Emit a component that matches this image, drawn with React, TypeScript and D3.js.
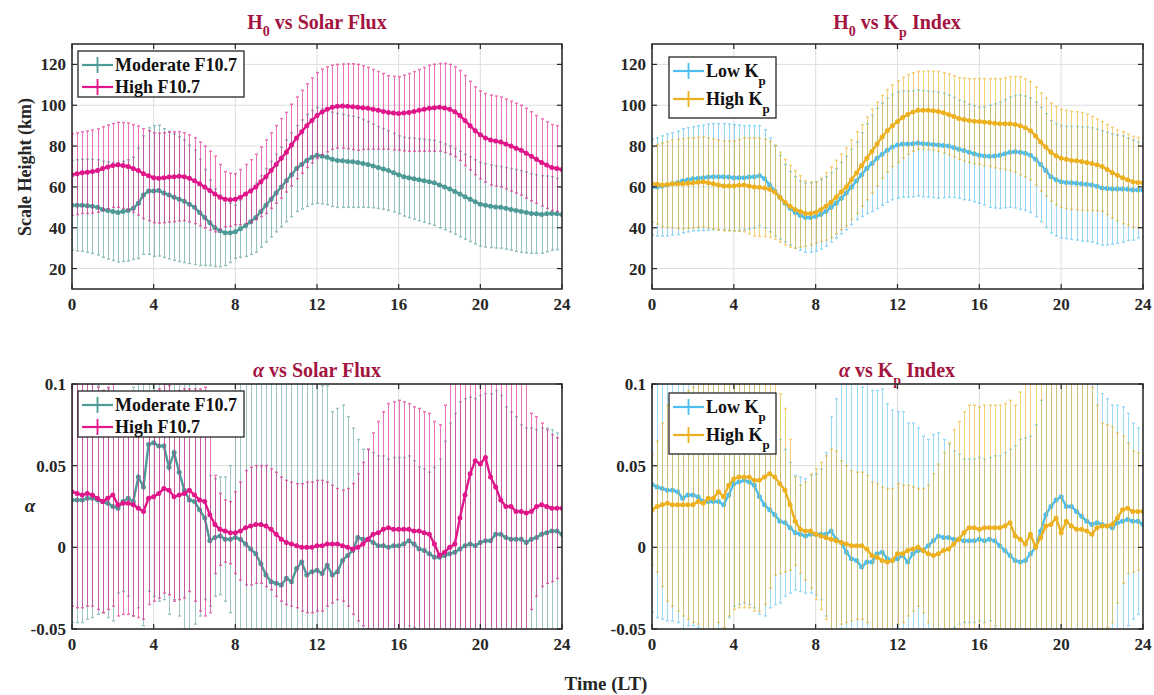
import React from "react";
import * as d3 from "d3";

// ---------- data (time step 0.25 h, 0..24 LT) ----------
const STEP = 0.25;
const TIME: number[] = d3.range(0, 24 + STEP / 2, STEP);

const X_TICKS = [0, 4, 8, 12, 16, 20, 24];
const H_TICKS = [20, 40, 60, 80, 100, 120];
const A_TICKS = [-0.05, 0, 0.05, 0.1];
const A_TICK_LABELS = ["-0.05", "0", "0.05", "0.1"];

// H0 vs Solar Flux
const modH0 = [
  51, 51, 51, 50.8, 50.5, 50, 49, 48.5, 48, 47.5, 48, 48.5, 49.5, 52, 56, 58,
  58, 58.2, 57, 56, 55, 54, 53, 51.5, 50, 47.5, 45, 42.5, 40, 38.5, 37.5, 37.5,
  38, 39.5, 41, 43, 45, 48, 51, 54, 57, 60, 63, 66, 69, 71, 73, 74.5,
  75.5, 75, 74.5, 73.5, 73, 72.8, 72.5, 72.3, 72, 71.5, 71, 70.3, 69.5, 68.8, 68, 67,
  66, 65, 64.5, 64, 63.5, 63, 62.5, 62, 61, 60, 59, 57.8, 56.5, 55.2, 54, 52.7,
  51.5, 51, 50.5, 50.2, 50, 49.5, 49, 48.5, 48, 47.5, 47, 46.8, 46.5, 46.8, 47, 46.8,
  46.5,
];
const modH0Err = [
  22, 22.3, 22.5, 22.8, 23, 23.3, 23.5, 23.8, 24, 24.3, 24.5, 24.8, 25, 27, 29, 31,
  32, 32, 31.5, 31.2, 31, 30.5, 30, 29, 28, 26, 23.5, 21, 19, 17.5, 16, 14.5,
  13, 14, 15, 16, 17, 17.5, 18, 18.5, 19, 19.5, 20, 20.5, 21, 21.8, 22.5, 23,
  23.5, 23.3, 23.2, 23.1, 23, 22.8, 22.5, 22.3, 22, 21.5, 21, 20.5, 20, 19.8, 19.5, 19.2,
  19, 19.3, 19.5, 19.8, 20, 20.3, 20.5, 20.8, 21, 21, 21, 21, 21, 20.8, 20.7, 20.6,
  20.5, 20.4, 20.2, 20.1, 20, 20, 20, 20, 20, 19.8, 19.5, 19.2, 19, 18.5, 18, 17.5,
  17,
];
const highH0 = [
  66, 66.5, 67, 67.2, 67.5, 68, 69, 69.8, 70.5, 70.8, 70.5, 70, 69, 68, 66.5, 65.5,
  64.5, 64.3, 64.5, 64.8, 65, 65.2, 65, 64.2, 63, 61.5, 60, 58.2, 56.5, 55, 54, 53.7,
  54, 55, 56.5, 58, 60, 62.5, 65, 68, 71, 74, 77, 80.5, 84, 87, 90, 92.5,
  95, 96.7, 98, 99, 99.5, 99.6, 99.5, 99.3, 99, 98.8, 98.5, 98, 97.5, 97, 96.5, 96.2,
  96, 96.2, 96.5, 97, 97.5, 98, 98.5, 98.8, 99, 98.7, 98, 96.8, 95, 92.5, 90, 87.5,
  85.5, 84, 83, 82.5, 82, 81, 80, 79, 78, 76.5, 75, 73.5, 72, 70.7, 69.5, 69,
  68.5,
];
const highH0Err = [
  20, 20, 20, 20.2, 20.3, 20.4, 20.5, 20.5, 20.5, 20.8, 21, 21.3, 21.5, 21.8, 22, 22,
  22, 22, 22, 22, 22, 21.8, 21.5, 21.3, 21, 20.5, 20, 19.3, 18.5, 16, 13.5, 13,
  12.5, 13.5, 14.5, 15.3, 16, 17, 18, 18.5, 19, 19.5, 19.5, 20, 20, 20.3, 20.5, 20.8,
  21, 21, 20.8, 20.6, 20.5, 20.6, 20.8, 21, 21, 20.5, 20, 19.5, 19, 18.5, 18, 18,
  18, 18.5, 19, 19.5, 20, 20.5, 21, 21.3, 21.5, 21.8, 22, 22, 22, 22, 21.7, 21.5,
  21.5, 21.7, 22, 22, 22, 22, 22, 22, 22, 22, 21.8, 21.5, 21.3, 21.2, 21, 21,
  21,
];

// H0 vs Kp
const lowKpH0 = [
  60, 60, 60.5, 61, 61.5, 62, 63, 63.5, 64, 64.3, 64.5, 64.8, 65, 65, 65, 64.8,
  64.5, 64.5, 64.5, 64.8, 65, 65.5, 64, 61, 58, 55, 52, 49.5, 47.5, 46, 45, 45,
  45.5, 46.5, 48, 50, 52, 54.5, 57, 60, 63, 66, 69, 71.5, 74, 76, 78, 79.5,
  80.5, 81, 81, 81.2, 81.5, 81.2, 81, 80.8, 80.5, 80.3, 80, 79.3, 78.5, 77.8, 77, 76.3,
  75.5, 75.2, 75, 75.2, 75.5, 76.3, 77, 77.2, 77, 76.5, 75.5, 73.5, 71, 68, 65, 63.5,
  62.5, 62.2, 62, 61.8, 61.5, 61.3, 61, 60.3, 59.5, 59.2, 59, 59, 59, 58.8, 58.5, 58.5,
  58.5,
];
const lowKpH0Err = [
  23.5, 24, 24.5, 25, 25, 25.3, 25.5, 25.5, 25.5, 25.7, 25.8, 26, 26, 26, 26, 26,
  26, 25.8, 25.5, 25.3, 25, 24.5, 24, 23, 22, 20.5, 19, 18, 17.5, 17, 17, 17,
  17, 17, 17, 17, 17, 17.5, 18, 18.5, 19, 20.5, 22, 23.5, 24.5, 25, 25.5, 25.8,
  26, 26, 26, 26, 26, 26, 26, 26, 26, 25.5, 25, 24.5, 24, 24, 23.5, 23.5,
  23.5, 24, 25, 25.5, 26, 26.5, 27, 27.5, 28, 28, 28, 28, 28, 27.8, 27.5, 27.5,
  27.5, 27.5, 27.7, 27.8, 28, 28, 28, 28, 28, 27.5, 27, 26.5, 26, 25, 24.5, 23.5,
  23,
];
const highKpH0 = [
  61.5, 61.3, 61, 61.2, 61.5, 61.5, 61.5, 61.8, 62, 62.3, 62.5, 62, 61.5, 61, 60.5, 60.5,
  60.5, 60.8, 61, 60.5, 60, 59.8, 59.5, 58.8, 57.5, 55, 52.5, 50.5, 49, 48, 47, 47,
  47.5, 48.8, 50.5, 52.5, 55, 57.5, 60, 63.5, 67, 70.5, 74, 77.5, 81, 84.5, 87.5, 90,
  92, 94, 95.5, 96.7, 97.5, 97.6, 97.5, 97.3, 97, 96.3, 95.5, 94.5, 93.5, 93, 92.5, 92.2,
  92, 91.8, 91.5, 91.2, 91, 91, 91, 90.6, 90, 89, 87.5, 85, 82, 79.5, 77, 75.3,
  74, 73.5, 73, 72.8, 72.5, 72, 71.5, 70.8, 70, 68.5, 67, 65.7, 64.5, 63.5, 62.5, 62.2,
  62,
];
const highKpH0Err = [
  18.5, 19.5, 20.5, 21, 21.5, 21.8, 22, 22, 22, 22, 22, 22, 22, 22, 22, 22,
  22, 22.5, 23, 23.5, 24, 24, 23.8, 23.5, 23, 22, 21, 20, 19, 17.5, 16, 15.5,
  15, 15.5, 16.5, 17.3, 18, 18.5, 19, 19.5, 20, 20, 20.3, 20.5, 20.5, 20.3, 20.2, 20,
  20, 19.8, 19.5, 19.2, 19, 19, 19.2, 19.3, 19.5, 19.6, 19.8, 19.9, 20, 20.3, 20.5, 20.8,
  21, 21.3, 21.5, 21.8, 22, 22.5, 23, 23.5, 24, 24, 24, 24, 24, 24, 24, 24,
  24, 24, 24, 24, 24, 23.5, 23, 22.5, 22, 22, 22.2, 22.3, 22.5, 22.3, 22.2, 22,
  22,
];

// alpha vs Solar Flux
const modAlpha = [
  0.029, 0.029, 0.029, 0.03, 0.03, 0.029, 0.028, 0.027, 0.025, 0.024, 0.028, 0.03, 0.028, 0.043, 0.037, 0.063,
  0.064, 0.062, 0.062, 0.049, 0.058, 0.046, 0.035, 0.029, 0.028, 0.023, 0.018, 0.004, 0.006, 0.007, 0.005, 0.005,
  0.006, 0.005, 0.002, -0.001, -0.004, -0.01, -0.017, -0.021, -0.022, -0.023, -0.019, -0.021, -0.013, -0.009, -0.017, -0.015,
  -0.014, -0.016, -0.011, -0.017, -0.015, -0.008, -0.005, -0.002, 0.006, 0.005, 0.005, 0.003, 0.001, 0.001, 0.0, 0.001,
  0.001, 0.002, 0.004, 0.002, -0.001, -0.002, -0.004, -0.006, -0.006, -0.005, -0.004, -0.003, -0.001, 0.001, 0.002, 0.001,
  0.003, 0.004, 0.004, 0.008, 0.008, 0.006, 0.005, 0.005, 0.005, 0.003, 0.005, 0.006, 0.008, 0.009, 0.01, 0.01,
  0.008,
];
const modAlphaErr = [
  0.075, 0.075, 0.075, 0.074, 0.073, 0.07, 0.068, 0.07, 0.07, 0.052, 0.055, 0.06, 0.07, 0.08, 0.085, 0.09,
  0.094, 0.095, 0.094, 0.09, 0.09, 0.088, 0.085, 0.08, 0.075, 0.065, 0.05, 0.04, 0.036, 0.036, 0.038, 0.045,
  0.12, 0.12, 0.125, 0.125, 0.13, 0.13, 0.13, 0.13, 0.13, 0.13, 0.13, 0.13, 0.13, 0.125, 0.12, 0.12,
  0.12, 0.115, 0.11, 0.1, 0.1, 0.095, 0.085, 0.075, 0.06, 0.055, 0.055, 0.055, 0.055, 0.055, 0.054, 0.054,
  0.054, 0.053, 0.052, 0.051, 0.05, 0.05, 0.05, 0.055, 0.06, 0.07, 0.08, 0.085, 0.09, 0.09, 0.09, 0.09,
  0.09, 0.09, 0.09, 0.088, 0.085, 0.08, 0.078, 0.075, 0.07, 0.07, 0.068, 0.066, 0.065, 0.064, 0.062, 0.06,
  0.06,
];
const highAlpha = [
  0.034, 0.033, 0.032, 0.033, 0.032, 0.03, 0.028, 0.03, 0.032, 0.026, 0.027, 0.027, 0.026, 0.024, 0.022, 0.03,
  0.031, 0.033, 0.036, 0.035, 0.031, 0.032, 0.033, 0.035, 0.032, 0.029, 0.028, 0.02, 0.014, 0.011, 0.01, 0.009,
  0.009, 0.01, 0.012, 0.013, 0.014, 0.014, 0.013, 0.011, 0.008, 0.005, 0.003, 0.002, 0.001, 0.0, 0.0, 0.0,
  0.001, 0.001, 0.002, 0.002, 0.002, 0.001, 0.0, -0.001, 0.0, 0.002, 0.005, 0.008, 0.009, 0.011, 0.012, 0.011,
  0.011, 0.011, 0.011, 0.01, 0.01, 0.009, 0.008, 0.002, -0.005, -0.003, 0.0, 0.002, 0.018, 0.032, 0.045, 0.053,
  0.051, 0.055, 0.043, 0.037, 0.029, 0.025, 0.025, 0.022, 0.022, 0.021, 0.022, 0.025, 0.026, 0.025, 0.024, 0.024,
  0.024,
];
const highAlphaErr = [
  0.07, 0.07, 0.069, 0.069, 0.068, 0.068, 0.068, 0.068, 0.068, 0.068, 0.068, 0.068, 0.068, 0.067, 0.066, 0.065,
  0.064, 0.064, 0.064, 0.064, 0.064, 0.064, 0.064, 0.062, 0.065, 0.068, 0.07, 0.06, 0.03, 0.022, 0.019, 0.019,
  0.025, 0.03, 0.035, 0.036, 0.036, 0.036, 0.037, 0.037, 0.038, 0.038, 0.038, 0.038, 0.038, 0.039, 0.04, 0.04,
  0.04, 0.04, 0.038, 0.036, 0.034, 0.034, 0.036, 0.04, 0.045, 0.05, 0.055, 0.062, 0.068, 0.072, 0.076, 0.078,
  0.079, 0.078, 0.077, 0.076, 0.075, 0.074, 0.074, 0.075, 0.08, 0.09, 0.11, 0.12, 0.12, 0.12, 0.12, 0.12,
  0.12, 0.12, 0.12, 0.12, 0.12, 0.12, 0.12, 0.11, 0.1, 0.08, 0.06, 0.055, 0.05, 0.047, 0.045, 0.043,
  0.04,
];

// alpha vs Kp
const lowKpAlpha = [
  0.0385, 0.037, 0.036, 0.035, 0.035, 0.034, 0.03, 0.032, 0.032, 0.031, 0.028, 0.028, 0.028, 0.028, 0.026, 0.032,
  0.039, 0.04, 0.041, 0.04, 0.038, 0.031, 0.026, 0.023, 0.02, 0.016, 0.015, 0.012, 0.009, 0.008, 0.007, 0.008,
  0.008, 0.008, 0.008, 0.01, 0.005, 0.003, -0.003, -0.007, -0.008, -0.012, -0.009, -0.009, -0.004, -0.003, -0.007, -0.008,
  -0.007, -0.005, -0.009, -0.004, -0.002, -0.002, 0.001, 0.004, 0.007, 0.006, 0.006, 0.005, 0.005, 0.004, 0.004, 0.004,
  0.005, 0.004, 0.005, 0.004, 0.001, -0.002, -0.005, -0.008, -0.009, -0.008, -0.004, 0.0, 0.01, 0.02, 0.025, 0.029,
  0.031, 0.025, 0.025, 0.022, 0.019, 0.016, 0.014, 0.015, 0.014, 0.013, 0.012, 0.015, 0.016, 0.017, 0.016, 0.016,
  0.014,
];
const lowKpAlphaErr = [
  0.078, 0.08, 0.08, 0.08, 0.08, 0.08, 0.08, 0.08, 0.08, 0.08, 0.08, 0.08, 0.08, 0.078, 0.076, 0.075,
  0.075, 0.075, 0.075, 0.075, 0.075, 0.072, 0.068, 0.06, 0.055, 0.05, 0.045, 0.04, 0.035, 0.035, 0.035, 0.036,
  0.037, 0.04, 0.05, 0.07, 0.086, 0.1, 0.11, 0.11, 0.11, 0.11, 0.11, 0.105, 0.1, 0.1, 0.095, 0.092,
  0.09, 0.088, 0.085, 0.08, 0.075, 0.07, 0.065, 0.065, 0.063, 0.06, 0.057, 0.054, 0.052, 0.05, 0.05, 0.05,
  0.05, 0.05, 0.05, 0.052, 0.055, 0.06, 0.065, 0.07, 0.075, 0.075, 0.072, 0.075, 0.08, 0.09, 0.09, 0.09,
  0.09, 0.09, 0.09, 0.09, 0.09, 0.09, 0.088, 0.085, 0.08, 0.078, 0.075, 0.072, 0.07, 0.065, 0.06, 0.057,
  0.054,
];
const highKpAlpha = [
  0.023, 0.025, 0.026, 0.027, 0.026, 0.026, 0.026, 0.026, 0.026, 0.028, 0.027, 0.03, 0.03, 0.034, 0.031, 0.038,
  0.042, 0.043, 0.043, 0.043, 0.041, 0.041, 0.043, 0.045, 0.043, 0.039, 0.035, 0.026, 0.016, 0.011, 0.01, 0.01,
  0.008, 0.007, 0.006, 0.005, 0.004, 0.003, 0.002, 0.001, 0.001, 0.001, -0.001, -0.005, -0.006, -0.008, -0.009, -0.008,
  -0.004, -0.004, -0.002, -0.001, 0.0, -0.002, -0.004, -0.005, -0.004, -0.002, -0.001, 0.002, 0.005, 0.009, 0.012, 0.012,
  0.011, 0.012, 0.012, 0.012, 0.012, 0.013, 0.015, 0.007, 0.005, 0.002, 0.008, 0.0, 0.006, 0.013, 0.014, 0.018,
  0.009, 0.016, 0.013, 0.011, 0.011, 0.01, 0.008, 0.012, 0.013, 0.013, 0.014, 0.018, 0.023, 0.024, 0.022, 0.022,
  0.022,
];
const highKpAlphaErr = [
  0.034, 0.04, 0.05, 0.06, 0.062, 0.065, 0.068, 0.07, 0.072, 0.075, 0.078, 0.08, 0.08, 0.08, 0.08, 0.08,
  0.08, 0.08, 0.08, 0.08, 0.08, 0.08, 0.078, 0.07, 0.06, 0.055, 0.05, 0.04, 0.027, 0.027, 0.03, 0.035,
  0.04, 0.045, 0.05, 0.055, 0.055, 0.05, 0.048, 0.046, 0.045, 0.045, 0.045, 0.045, 0.045, 0.045, 0.045, 0.044,
  0.043, 0.042, 0.04, 0.038, 0.036, 0.038, 0.042, 0.05, 0.055, 0.06, 0.065, 0.07, 0.072, 0.074, 0.075, 0.075,
  0.075, 0.075, 0.075, 0.075, 0.075, 0.075, 0.075, 0.08, 0.09, 0.1, 0.11, 0.11, 0.11, 0.11, 0.11, 0.11,
  0.11, 0.11, 0.11, 0.11, 0.11, 0.1, 0.09, 0.075, 0.063, 0.062, 0.06, 0.052, 0.045, 0.04, 0.037, 0.036,
  0.035,
];

// ---------- styling ----------
const TEAL = "#4E9A97";
const MAGENTA = "#E0168A";
const BLUE = "#4DBEEE";
const ORANGE = "#EDB120";
const TITLE_COLOR = "#A3153F";
const AXIS_COLOR = "#262626";
const FONT = "'Liberation Serif', 'Times New Roman', serif";

type Series = { mean: number[]; err: number[]; color: string; barOpacity: number };
type LegendItem = { label: string; sub?: string; color: string };

function Panel(props: {
  x: number; y: number; w: number; h: number; id: string;
  yDomain: [number, number]; yTicks: number[]; yTickLabels: string[];
  series: Series[]; legend: LegendItem[];
  legendBox: { x: number; y: number; w: number; h: number; rows: number[] };
}) {
  const { x, y, w, h, id, yDomain, yTicks, yTickLabels, series, legend, legendBox } = props;
  const xs = d3.scaleLinear().domain([0, 24]).range([x, x + w]);
  const ys = d3.scaleLinear().domain(yDomain).range([y + h, y]);
  const tk = 5;
  return (
    <g>
      <defs>
        <clipPath id={id}>
          <rect x={x} y={y} width={w} height={h} />
        </clipPath>
      </defs>
      {/* grid */}
      <g stroke="#dedede" strokeWidth={1}>
        {X_TICKS.map((t) => (
          <line key={"gx" + t} x1={xs(t)} x2={xs(t)} y1={y} y2={y + h} />
        ))}
        {yTicks.map((t) => (
          <line key={"gy" + t} x1={x} x2={x + w} y1={ys(t)} y2={ys(t)} />
        ))}
      </g>
      {/* series */}
      <g clipPath={`url(#${id})`}>
        {series.map((s, si) => {
          const line = d3
            .line<number>()
            .x((_, i) => xs(TIME[i]))
            .y((v) => ys(v));
          return (
            <g key={si}>
              <g stroke={s.color} strokeWidth={1} opacity={s.barOpacity}>
                {s.mean.map((m, i) => {
                  const px = Math.round(xs(TIME[i])) + 0.5;
                  const lo = ys(m - s.err[i]);
                  const hi = ys(m + s.err[i]);
                  return (
                    <g key={i}>
                      <line x1={px} x2={px} y1={lo} y2={hi} />
                      <line x1={px - 1.5} x2={px + 1.5} y1={lo} y2={lo} strokeWidth={1.5} />
                      <line x1={px - 1.5} x2={px + 1.5} y1={hi} y2={hi} strokeWidth={1.5} />
                    </g>
                  );
                })}
              </g>
              <path d={line(s.mean) || ""} fill="none" stroke={s.color} strokeWidth={2.4} />
              <g fill={s.color}>
                {s.mean.map((m, i) => (
                  <circle key={i} cx={xs(TIME[i])} cy={ys(m)} r={2.5} />
                ))}
              </g>
            </g>
          );
        })}
      </g>
      {/* box + ticks */}
      <rect x={x} y={y} width={w} height={h} fill="none" stroke={AXIS_COLOR} strokeWidth={1.5} />
      <g stroke={AXIS_COLOR} strokeWidth={1.2}>
        {X_TICKS.map((t) => (
          <g key={"tx" + t}>
            <line x1={xs(t)} x2={xs(t)} y1={y + h} y2={y + h - tk} />
            <line x1={xs(t)} x2={xs(t)} y1={y} y2={y + tk} />
          </g>
        ))}
        {yTicks.map((t) => (
          <g key={"ty" + t}>
            <line x1={x} x2={x + tk} y1={ys(t)} y2={ys(t)} />
            <line x1={x + w} x2={x + w - tk} y1={ys(t)} y2={ys(t)} />
          </g>
        ))}
      </g>
      <g fill={AXIS_COLOR} fontFamily={FONT} fontWeight="bold" fontSize={17}>
        {X_TICKS.map((t) => (
          <text key={"lx" + t} x={xs(t)} y={y + h + 21} textAnchor="middle">
            {t}
          </text>
        ))}
        {yTicks.map((t, i) => (
          <text key={"ly" + t} x={x - 6} y={ys(t) + 6} textAnchor="end">
            {yTickLabels[i]}
          </text>
        ))}
      </g>
      {/* legend */}
      <g>
        <rect x={legendBox.x} y={legendBox.y} width={legendBox.w} height={legendBox.h} fill="#ffffff" stroke={AXIS_COLOR} strokeWidth={1.3} />
        {legend.map((it, i) => {
          const ry = legendBox.y + legendBox.rows[i];
          const lx = legendBox.x + 4;
          return (
            <g key={i}>
              <line x1={lx} x2={lx + 31} y1={ry} y2={ry} stroke={it.color} strokeWidth={2.2} />
              <line x1={lx + 15.5} x2={lx + 15.5} y1={ry - 8} y2={ry + 8} stroke={it.color} strokeWidth={1.8} />
              <text x={lx + 33} y={ry + 6} fontFamily={FONT} fontWeight="bold" fontSize={18} fill="#111">
                {it.label}
                {it.sub ? (
                  <tspan fontSize={13} dy={8}>
                    {it.sub}
                  </tspan>
                ) : null}
              </text>
            </g>
          );
        })}
      </g>
    </g>
  );
}

function Title(props: { x: number; y: number; pre: string; preItalic?: boolean; mid: string; sub?: string; post?: string; sub0?: string }) {
  const { x, y } = props;
  return (
    <text x={x} y={y} textAnchor="middle" fontFamily={FONT} fontWeight="bold" fontSize={20} fill={TITLE_COLOR}>
      <tspan fontStyle={props.preItalic ? "italic" : "normal"}>{props.pre}</tspan>
      {props.sub0 ? (
        <tspan fontSize={14} dy={7}>
          {props.sub0}
        </tspan>
      ) : null}
      <tspan dy={props.sub0 ? -7 : 0}>{props.mid}</tspan>
      {props.sub ? (
        <tspan fontSize={14} dy={8}>
          {props.sub}
        </tspan>
      ) : null}
      {props.post ? <tspan dy={props.sub ? -8 : 0}>{props.post}</tspan> : null}
    </text>
  );
}

export default function App() {
  const W = 1154;
  const H = 695;
  const fmtH = H_TICKS.map((t) => String(t));
  return (
    <svg width={W} height={H} style={{ position: "absolute", left: 0, top: 0, background: "#fff" }}>
      <rect x={0} y={0} width={W} height={H} fill="#fff" />
      <Title x={317} y={29} pre="H" sub0="0" mid=" vs Solar Flux" />
      <Title x={897} y={29} pre="H" sub0="0" mid=" vs K" sub="p" post=" Index" />
      <Title x={317} y={377} pre="α" preItalic mid=" vs Solar Flux" />
      <Title x={897} y={377} pre="α" preItalic mid=" vs K" sub="p" post=" Index" />

      <Panel
        id="c1" x={72} y={44} w={490} h={245}
        yDomain={[10, 130]} yTicks={H_TICKS} yTickLabels={fmtH}
        series={[
          { mean: modH0, err: modH0Err, color: TEAL, barOpacity: 0.6 },
          { mean: highH0, err: highH0Err, color: MAGENTA, barOpacity: 0.6 },
        ]}
        legend={[
          { label: "Moderate F10.7", color: TEAL },
          { label: "High F10.7", color: MAGENTA },
        ]}
        legendBox={{ x: 78, y: 51, w: 166, h: 46, rows: [14, 36] }}
      />
      <Panel
        id="c2" x={652} y={44} w={491} h={245}
        yDomain={[10, 130]} yTicks={H_TICKS} yTickLabels={fmtH}
        series={[
          { mean: lowKpH0, err: lowKpH0Err, color: BLUE, barOpacity: 0.6 },
          { mean: highKpH0, err: highKpH0Err, color: ORANGE, barOpacity: 0.6 },
        ]}
        legend={[
          { label: "Low K", sub: "p", color: BLUE },
          { label: "High K", sub: "p", color: ORANGE },
        ]}
        legendBox={{ x: 669, y: 57, w: 107, h: 61, rows: [14, 42] }}
      />
      <Panel
        id="c3" x={72} y={384} w={490} h={245}
        yDomain={[-0.05, 0.1]} yTicks={A_TICKS} yTickLabels={A_TICK_LABELS}
        series={[
          { mean: modAlpha, err: modAlphaErr, color: TEAL, barOpacity: 0.55 },
          { mean: highAlpha, err: highAlphaErr, color: MAGENTA, barOpacity: 0.6 },
        ]}
        legend={[
          { label: "Moderate F10.7", color: TEAL },
          { label: "High F10.7", color: MAGENTA },
        ]}
        legendBox={{ x: 78, y: 391, w: 166, h: 46, rows: [14, 36] }}
      />
      <Panel
        id="c4" x={652} y={384} w={491} h={245}
        yDomain={[-0.05, 0.1]} yTicks={A_TICKS} yTickLabels={A_TICK_LABELS}
        series={[
          { mean: lowKpAlpha, err: lowKpAlphaErr, color: BLUE, barOpacity: 0.55 },
          { mean: highKpAlpha, err: highKpAlphaErr, color: ORANGE, barOpacity: 0.6 },
        ]}
        legend={[
          { label: "Low K", sub: "p", color: BLUE },
          { label: "High K", sub: "p", color: ORANGE },
        ]}
        legendBox={{ x: 669, y: 393, w: 107, h: 61, rows: [14, 42] }}
      />

      <text
        transform="translate(31,167) rotate(-90)"
        textAnchor="middle" fontFamily={FONT} fontWeight="bold" fontSize={18} fill={AXIS_COLOR}
      >
        Scale Height (km)
      </text>
      <text x={30} y={512} textAnchor="middle" fontFamily={FONT} fontWeight="bold" fontStyle="italic" fontSize={19} fill={AXIS_COLOR}>
        α
      </text>
      <text x={606} y={690} textAnchor="middle" fontFamily={FONT} fontWeight="bold" fontSize={19} fill={AXIS_COLOR}>
        Time (LT)
      </text>
    </svg>
  );
}
